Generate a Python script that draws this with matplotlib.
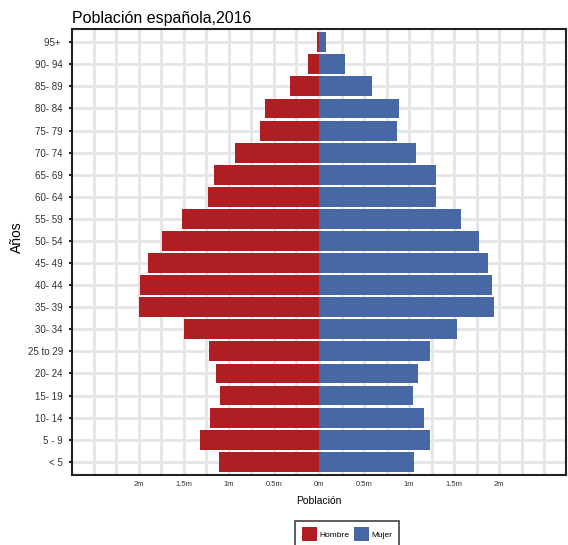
import numpy as np
import matplotlib
matplotlib.use('Agg')
import matplotlib.pyplot as plt
from matplotlib.patches import Patch
from matplotlib.ticker import MultipleLocator

plt.rcParams['font.family'] = ['Liberation Sans', 'DejaVu Sans']

# age groups, bottom to top
grupos = ['< 5', '5 - 9', '10- 14', '15- 19', '20- 24', '25 to 29', '30- 34',
          '35- 39', '40- 44', '45- 49', '50- 54', '55- 59', '60- 64', '65- 69',
          '70- 74', '75- 79', '80- 84', '85- 89', '90- 94', '95+ ']

# population in millions
hombre = [1.11, 1.32, 1.21, 1.10, 1.14, 1.22, 1.50, 2.00, 1.99, 1.90, 1.74,
          1.52, 1.23, 1.17, 0.93, 0.66, 0.60, 0.32, 0.12, 0.02]
mujer = [1.05, 1.23, 1.16, 1.04, 1.10, 1.23, 1.53, 1.94, 1.92, 1.87, 1.77,
         1.58, 1.30, 1.30, 1.08, 0.86, 0.89, 0.59, 0.29, 0.08]

xticks = [-2, -1.5, -1, -0.5, 0, 0.5, 1, 1.5, 2]
xlabels = ['2m', '1.5m', '1m', '0.5m', '0m', '0.5m', '1m', '1.5m', '2m']

c_h = '#AF1E23'
c_m = '#4867A5'

fig = plt.figure(figsize=(5.68, 5.45), dpi=100)
ax = fig.add_axes([0.1268, 0.1284, 0.8697, 0.8184])

y = np.arange(len(grupos))
ax.barh(y, [-v for v in hombre], height=0.9, color=c_h, zorder=3)
ax.barh(y, mujer, height=0.9, color=c_m, zorder=3)

ax.set_xlim(-2.74, 2.74)
ax.set_ylim(-0.6, len(grupos) - 0.4)
ax.set_xticks(xticks)
ax.set_xticklabels(xlabels, fontsize=5.5, color='#333333')
ax.xaxis.set_minor_locator(MultipleLocator(0.25))
ax.set_yticks(y)
ax.set_yticklabels(grupos, fontsize=7, color='#333333')

ax.tick_params(axis='x', which='both', length=0, pad=4)
ax.tick_params(axis='y', length=2.5, width=1.5, color='#222222', pad=4)

ax.grid(True, which='both', color='#E5E5E5', linewidth=2.0, zorder=0)
ax.set_axisbelow(True)
for s in ax.spines.values():
    s.set_color('#222222')
    s.set_linewidth(1.5)

ax.set_title('Población española,2016', loc='left', fontsize=11.5, pad=4)
ax.set_xlabel('Población', fontsize=7.5, labelpad=6)
ax.set_ylabel('Años', fontsize=10)
ax.yaxis.set_label_coords(-0.097, 0.534)

handles = [Patch(facecolor=c_h, label='Hombre'), Patch(facecolor=c_m, label='Mujer')]
leg = fig.legend(handles=handles, loc='upper center', bbox_to_anchor=(347 / 568, 1 - 521 / 545),
                 ncol=2, fontsize=6, frameon=True, fancybox=False, handlelength=1.8,
                 handleheight=2.1, columnspacing=0.6, handletextpad=0.3, borderpad=0.75,
                 borderaxespad=0)
leg.get_frame().set_edgecolor('#111111')
leg.get_frame().set_linewidth(1.2)

fig.savefig('out.png', dpi=100)
